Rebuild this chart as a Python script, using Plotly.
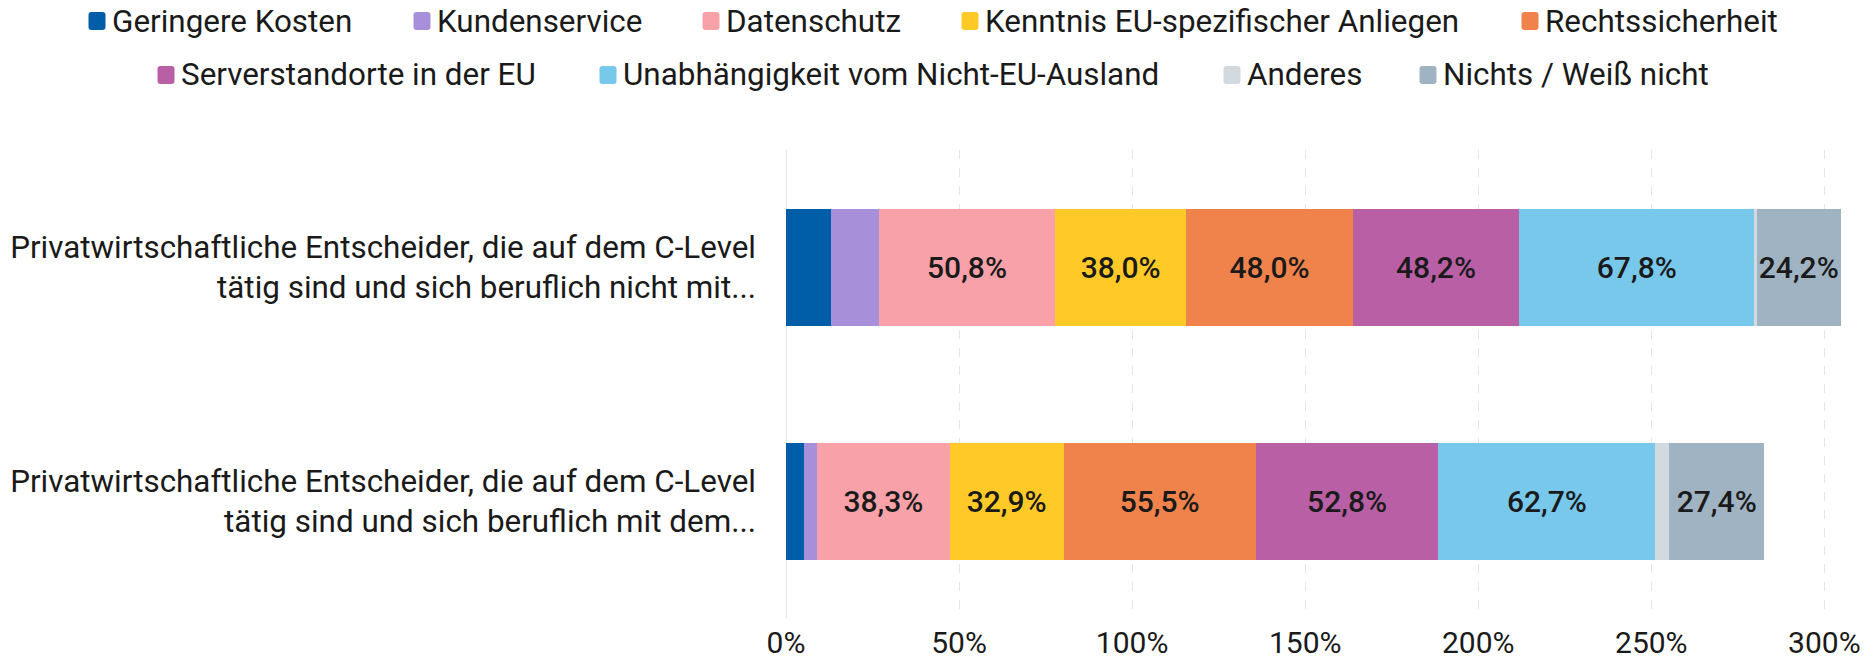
import plotly.graph_objects as go

categories = [
    "Privatwirtschaftliche Entscheider, die auf dem C-Level<br>tätig sind und sich beruflich nicht mit...",
    "Privatwirtschaftliche Entscheider, die auf dem C-Level<br>tätig sind und sich beruflich mit dem...",
]
series_names = [
    "Geringere Kosten", "Kundenservice", "Datenschutz", "Kenntnis EU-spezifischer Anliegen",
    "Rechtssicherheit", "Serverstandorte in der EU", "Unabhängigkeit vom Nicht-EU-Ausland",
    "Anderes", "Nichts / Weiß nicht",
]
geringere_kosten = [13.0, 5.2]
kundenservice = [13.9, 3.8]
datenschutz = [50.8, 38.3]
kenntnis_eu = [38.0, 32.9]
rechtssicherheit = [48.0, 55.5]
serverstandorte = [48.2, 52.8]
unabhaengigkeit = [67.8, 62.7]
anderes = [0.8, 4.0]
nichts = [24.2, 27.4]
series_values = [geringere_kosten, kundenservice, datenschutz, kenntnis_eu, rechtssicherheit,
                 serverstandorte, unabhaengigkeit, anderes, nichts]
colors = ["#005EA8", "#A78FDA", "#F8A1A8", "#FFCA28", "#F0824B",
          "#B95FA5", "#78C8EC", "#D2DAE0", "#9FB3C2"]
tick_vals = [0, 50, 100, 150, 200, 250, 300]
tick_text = ["0%", "50%", "100%", "150%", "200%", "250%", "300%"]

# --- layout constants (pixels) ---
W, H = 1873, 659
ML, MR, MT, MB = 786, 14, 150, 41
PW, PH = W - ML - MR, H - MT - MB
# legend item pixel positions: (marker center x, row center y)
legend_marker_x = [97, 422, 711, 970, 1530, 166, 608, 1232, 1428]
legend_row_y = [21, 21, 21, 21, 21, 75, 75, 75, 75]
MARK_W, MARK_H, MARK_R = 17, 18, 3

FONT = "Roboto, sans-serif"
TXT = "#1a1a1a"

fig = go.Figure()
for i, (name, vals, col) in enumerate(zip(series_names, series_values, colors)):
    txt = [(f"{v:.1f}".replace(".", ",") + "%") if v >= 20 else "" for v in vals]
    fig.add_trace(go.Bar(
        y=categories, x=vals, name=name, orientation="h",
        marker=dict(color=col, line=dict(width=0)),
        text=txt, textposition="inside", insidetextanchor="middle", textangle=0,
        textfont=dict(family=FONT, size=30, color=TXT, weight=500),
        showlegend=False,
    ))


def px2paper_x(px):
    return (px - ML) / PW


def px2paper_y(py):
    return (H - MB - py) / PH


shapes = []
annotations = []
for name, col, cx, cy in zip(series_names, colors, legend_marker_x, legend_row_y):
    x0, x1 = cx - MARK_W / 2, cx + MARK_W / 2
    y0, y1 = cy - MARK_H / 2, cy + MARK_H / 2
    r = MARK_R
    pts = [
        (x0 + r, y0), (x1 - r, y0), (x1, y0 + r), (x1, y1 - r),
        (x1 - r, y1), (x0 + r, y1), (x0, y1 - r), (x0, y0 + r),
    ]
    ctrl = [(x1, y0), (x1, y1), (x0, y1), (x0, y0)]

    def P(pt):
        return f"{px2paper_x(pt[0])},{px2paper_y(pt[1])}"

    p = (f"M {P(pts[0])} L {P(pts[1])} Q {P(ctrl[0])} {P(pts[2])} "
         f"L {P(pts[3])} Q {P(ctrl[1])} {P(pts[4])} "
         f"L {P(pts[5])} Q {P(ctrl[2])} {P(pts[6])} "
         f"L {P(pts[7])} Q {P(ctrl[3])} {P(pts[0])} Z")
    shapes.append(dict(type="path", path=p, xref="paper", yref="paper",
                       fillcolor=col, line=dict(width=0), layer="above"))
    annotations.append(dict(
        text=name, xref="paper", yref="paper",
        x=px2paper_x(cx + MARK_W / 2 + 5), y=px2paper_y(cy),
        xanchor="left", yanchor="middle", showarrow=False, borderpad=0,
        font=dict(family=FONT, size=31.4, color=TXT),
    ))

fig.update_layout(
    width=W, height=H,
    barmode="stack", bargap=0.5,
    plot_bgcolor="white", paper_bgcolor="white",
    margin=dict(l=ML, r=MR, t=MT, b=MB, autoexpand=False),
    font=dict(family=FONT, size=30, color=TXT),
    showlegend=False,
    shapes=shapes, annotations=annotations,
    uniformtext=dict(minsize=30, mode="show"),
    xaxis=dict(range=[0, 310], tickmode="array", tickvals=tick_vals, ticktext=tick_text,
               automargin=False,
               showgrid=True, gridcolor="#e6e6e6", griddash="dash", gridwidth=1,
               zeroline=True, zerolinecolor="#e6e6e6", zerolinewidth=1,
               showline=False, ticks="", ticklabelstandoff=4,
               tickfont=dict(family=FONT, size=30, color=TXT)),
    yaxis=dict(autorange="reversed", ticks="", ticklabelstandoff=29, automargin=False,
               showgrid=False, tickfont=dict(family=FONT, size=31.4, color=TXT)),
)
fig.write_html(
    "out.html",
    config={"displayModeBar": False},
    post_script="document.body.style.margin='0';document.body.style.overflow='hidden';",
)
